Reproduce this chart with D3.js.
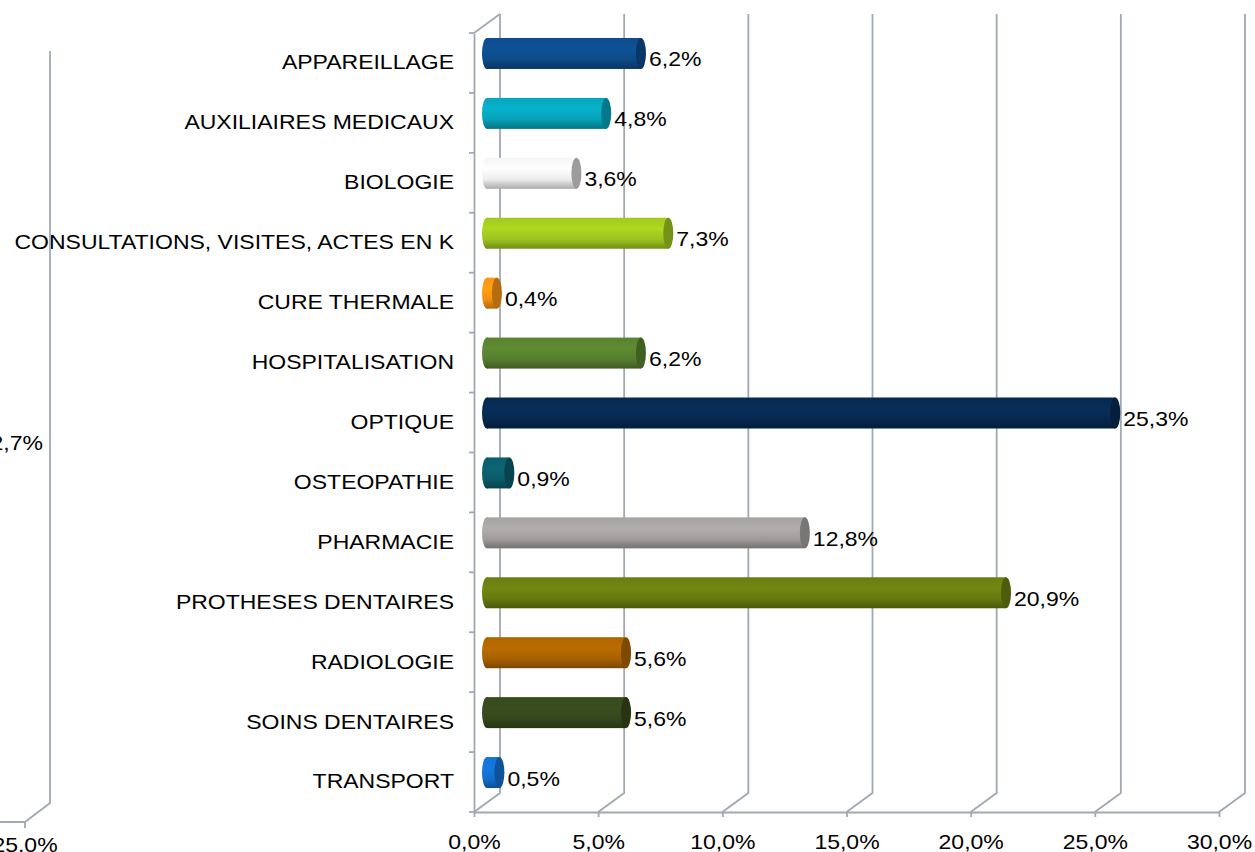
<!DOCTYPE html>
<html>
<head>
<meta charset="utf-8">
<script src="https://cdn.jsdelivr.net/npm/d3@7"></script>
<style>
  body { margin: 0; background: #fff; }
  svg { display: block; font-family: "Liberation Sans", Arial, sans-serif; }
</style>
</head>
<body>
<div class="chart"></div>
<script>
const categories = ['APPAREILLAGE', 'AUXILIAIRES MEDICAUX', 'BIOLOGIE', 'CONSULTATIONS, VISITES, ACTES EN K',
  'CURE THERMALE', 'HOSPITALISATION', 'OPTIQUE', 'OSTEOPATHIE', 'PHARMACIE', 'PROTHESES DENTAIRES',
  'RADIOLOGIE', 'SOINS DENTAIRES', 'TRANSPORT']
const values = [6.2, 4.8, 3.6, 7.3, 0.4, 6.2, 25.3, 0.9, 12.8, 20.9, 5.6, 5.6, 0.5]
const barColors = ['#0d4a88', '#06a0b6', '#ececec', '#9cc21e', '#f29012', '#557e2e', '#06284f',
  '#0b5a68', '#a09c9c', '#66790f', '#a86100', '#34471c', '#126ecd']
const xTicks = [0, 5, 10, 15, 20, 25, 30]
// bits of the neighbouring chart that show on the left edge
const ghostLabel = '2,7%'
const ghostTick = '25,0%'

let w = 1255, h = 852
let pTop = 33, pBottom = 812, pLeft = 474, pRight = 1219
let dx = 26, dy = -19   // depth of the 3d box
let fs = 20, stretch = 1.15
let gridColor = '#a0a8b1'

let fmt = (d) => d3.format('.1f')(d).replace('.', ',') + '%'

let xScale = d3.scaleLinear().domain([0, 30]).range([pLeft, pRight])
let yScale = d3.scaleBand().domain(categories).range([pTop, pBottom])

let svg = d3.select('.chart').append('svg').attr('width', w).attr('height', h)
let defs = svg.append('defs')

// walls and grid
let grid = svg.append('g').attr('fill', 'none').attr('stroke', gridColor).attr('stroke-width', 1.8)
grid.selectAll('path.gl').data(xTicks).enter().append('path').attr('class', 'gl')
  .attr('d', (d) => 'M' + (xScale(d) + dx) + ',' + (pTop + dy) + 'V' + (pBottom + dy) + 'L' + xScale(d) + ',' + pBottom)
grid.append('path').attr('d', 'M' + pLeft + ',' + pTop + 'L' + (pLeft + dx) + ',' + (pTop + dy))

let step = yScale.step()
grid.selectAll('line.yt').data(d3.range(categories.length + 1)).enter().append('line').attr('class', 'yt')
  .attr('x1', pLeft - 5).attr('x2', pLeft).attr('y1', (i) => pTop + i * step).attr('y2', (i) => pTop + i * step)

// axes
let xAxis = d3.axisBottom(xScale).tickValues(xTicks).tickFormat(fmt).tickSize(5).tickSizeOuter(0).tickPadding(18)
let gx = svg.append('g').attr('transform', 'translate(0,' + pBottom + ')').call(xAxis)
gx.selectAll('path,line').attr('stroke', gridColor).attr('stroke-width', 1.8)
gx.selectAll('text').attr('font-size', fs).attr('fill', '#000')
  .attr('transform', 'scale(' + stretch + ',1)')
gx.attr('font-family', null).attr('font-size', null)

let yAxis = d3.axisLeft(yScale).tickSize(0).tickSizeOuter(0).tickPadding(20)
let gy = svg.append('g').attr('transform', 'translate(' + pLeft + ',0)').call(yAxis)
gy.select('.domain').attr('stroke', gridColor).attr('stroke-width', 1.8)
gy.selectAll('text').attr('font-size', fs).attr('fill', '#000')
  .attr('x', -20 / stretch).attr('transform', 'scale(' + stretch + ',1)')
gy.attr('font-family', null).attr('font-size', null)

// cylinders
let bh = 31, rx = 5
categories.forEach((c, i) => {
  let base = d3.color(barColors[i])
  let g = defs.append('linearGradient').attr('id', 'grad' + i).attr('x1', 0).attr('y1', 0).attr('x2', 0).attr('y2', 1)
  g.append('stop').attr('offset', '0%').attr('stop-color', base.brighter(0.1))
  g.append('stop').attr('offset', '35%').attr('stop-color', base.brighter(0.3))
  g.append('stop').attr('offset', '70%').attr('stop-color', base)
  g.append('stop').attr('offset', '100%').attr('stop-color', base.darker(0.9))
})
let bars = svg.selectAll('g.bar').data(categories).enter().append('g').attr('class', 'bar')
bars.each(function (d, i) {
  let g = d3.select(this)
  let cy = yScale(d) + yScale.bandwidth() / 2 + dy / 2
  let x0 = xScale(0) + dx / 2
  let x1 = xScale(values[i]) + dx / 2
  let cap = barColors[i] == '#ececec' ? '#9c9c9c' : d3.color(barColors[i]).darker(0.8)
  g.append('ellipse').attr('cx', x0).attr('cy', cy).attr('rx', rx).attr('ry', bh / 2).attr('fill', 'url(#grad' + i + ')')
  g.append('rect').attr('x', x0).attr('y', cy - bh / 2).attr('width', x1 - x0).attr('height', bh).attr('fill', 'url(#grad' + i + ')')
  g.append('ellipse').attr('cx', x1).attr('cy', cy).attr('rx', rx).attr('ry', bh / 2).attr('fill', cap)
  g.append('text').text(fmt(values[i]))
    .attr('transform', 'translate(' + (x1 + rx + 3) + ',' + (cy + 6) + ') scale(' + stretch + ',1)')
    .attr('dy', '0.35em').attr('font-size', fs).attr('fill', '#000')
})

// edge of the chart next door
let ghost = svg.append('g')
ghost.append('path').attr('fill', 'none').attr('stroke', gridColor).attr('stroke-width', 1.8)
  .attr('d', 'M50,51V803L25,822H0M25,822V828')
ghost.append('text').text(ghostLabel).attr('text-anchor', 'end')
  .attr('transform', 'translate(43,443) scale(' + stretch + ',1)').attr('dy', '0.35em').attr('font-size', fs)
ghost.append('text').text(ghostTick).attr('text-anchor', 'middle')
  .attr('transform', 'translate(25,852) scale(' + stretch + ',1)').attr('font-size', fs)
</script>
</body>
</html>
